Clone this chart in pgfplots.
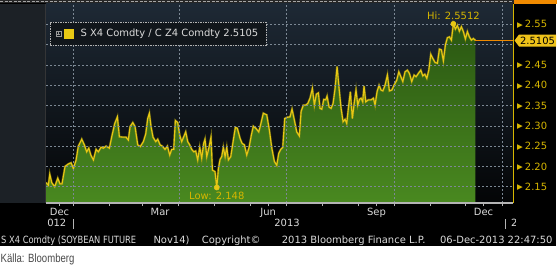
\documentclass[border=0pt]{standalone}
\usepackage{pgfplots}
\pgfplotsset{compat=1.18}
\usepackage{pgfplotstable}
\usepackage{fontspec}
\setmainfont{DejaVu Sans}
\newfontfamily\kalla{Liberation Sans}[FakeStretch=0.8]
\definecolor{plottop}{HTML}{1E2935}
\definecolor{plotbot}{HTML}{040506}
\definecolor{leftpanel}{HTML}{1C2126}
\definecolor{gridc}{HTML}{7C8894}
\definecolor{greentop}{HTML}{2A5612}
\definecolor{greenbot}{HTML}{4A8A20}
\definecolor{lineyel}{HTML}{E8C814}
\definecolor{glow}{HTML}{9C9410}
\definecolor{gold}{HTML}{D6B600}
\definecolor{txtgray}{HTML}{DADADA}
\definecolor{legbg}{HTML}{11161B}
\definecolor{orangeln}{HTML}{F08A00}
\definecolor{boxyel}{HTML}{EEC21A}
\definecolor{axgray}{HTML}{B4B4B4}
\definecolor{kallagray}{HTML}{4A4A4A}
\newcommand{\tri}{\raisebox{0.6bp}{\fontsize{7.5}{7.5}\selectfont ▶}\hspace{2bp}}

% days since 1 Jan 2013, ratio S X4 / C Z4
\pgfplotstableread{
day val
-23.0 2.160
-21.0 2.154
-19.8 2.181
-18.1 2.160
-15.6 2.150
-13.0 2.171
-11.1 2.157
-9.4 2.157
-6.8 2.200
-4.0 2.206
-1.7 2.209
0.3 2.195
2.6 2.216
4.5 2.250
7.4 2.267
9.6 2.253
11.6 2.236
13.4 2.245
15.1 2.228
17.3 2.216
19.6 2.242
21.5 2.236
23.8 2.247
25.8 2.245
28.1 2.250
30.9 2.245
32.9 2.273
35.5 2.306
37.7 2.322
39.4 2.273
42.8 2.272
45.1 2.272
47.0 2.265
48.5 2.298
50.8 2.308
52.7 2.298
55.0 2.253
57.2 2.249
59.8 2.261
61.8 2.280
63.5 2.318
64.9 2.331
66.3 2.298
68.0 2.272
70.3 2.261
72.0 2.267
74.0 2.253
75.9 2.250
78.2 2.242
80.2 2.250
82.2 2.228
83.9 2.242
85.6 2.242
87.0 2.313
89.0 2.308
90.7 2.277
92.4 2.261
94.1 2.273
95.8 2.285
97.5 2.261
99.2 2.253
100.9 2.242
102.6 2.236
104.3 2.238
106.0 2.216
107.7 2.247
109.4 2.220
111.1 2.257
112.2 2.267
113.7 2.224
115.6 2.247
117.3 2.272
118.5 2.191
120.7 2.187
122.2 2.148
123.6 2.195
125.0 2.217
126.4 2.224
127.8 2.247
129.3 2.224
130.7 2.247
132.1 2.216
134.1 2.224
136.3 2.265
138.0 2.296
139.7 2.294
142.0 2.269
143.7 2.257
145.7 2.253
147.7 2.228
149.7 2.247
151.6 2.277
153.3 2.299
155.4 2.294
157.9 2.285
159.6 2.304
161.8 2.331
164.7 2.327
166.9 2.290
169.0 2.245
171.2 2.212
173.2 2.203
174.9 2.232
176.6 2.242
178.3 2.247
180.0 2.318
182.2 2.321
184.5 2.322
186.2 2.341
187.9 2.318
190.2 2.285
192.4 2.275
193.9 2.335
195.8 2.351
197.8 2.351
199.6 2.355
201.5 2.368
203.5 2.392
205.2 2.351
206.9 2.378
208.6 2.381
210.0 2.343
211.5 2.341
213.2 2.365
214.9 2.364
216.0 2.373
217.7 2.346
219.4 2.343
221.1 2.355
222.8 2.392
224.5 2.446
226.2 2.392
227.9 2.343
229.6 2.310
231.3 2.316
232.7 2.306
234.1 2.343
235.8 2.384
237.5 2.318
239.2 2.359
240.6 2.388
242.1 2.351
243.5 2.365
244.9 2.368
246.3 2.359
247.4 2.398
248.9 2.359
251.1 2.364
253.4 2.364
255.4 2.368
256.8 2.351
258.5 2.384
260.2 2.400
261.9 2.388
263.4 2.386
265.3 2.400
267.3 2.425
269.0 2.386
271.0 2.388
273.0 2.400
275.3 2.413
277.0 2.433
278.7 2.421
280.4 2.409
282.3 2.433
284.3 2.437
286.0 2.429
288.0 2.409
290.0 2.425
291.7 2.421
293.6 2.429
295.7 2.437
297.4 2.423
299.1 2.427
300.8 2.417
302.5 2.437
304.2 2.476
305.9 2.466
307.8 2.456
309.8 2.454
311.5 2.489
313.2 2.487
314.9 2.460
316.6 2.499
318.3 2.517
320.0 2.519
321.7 2.511
323.4 2.5512
325.1 2.538
326.8 2.547
328.5 2.533
330.2 2.544
331.9 2.532
333.6 2.514
335.3 2.532
337.0 2.519
338.7 2.511
340.4 2.515
342.1 2.5105
}\soy

\begin{document}
\begin{tikzpicture}[x=1bp,y=1bp]
\useasboundingbox (0,0) rectangle (557,267);
\fill[white] (0,0) rectangle (557,267);
\fill[black] (0,21.5) rectangle (556,267);
% top strip
\fill[black!85] (0,263.5) rectangle (557,267);
\draw[gray!70, line width=1bp, dash pattern=on 3bp off 1.5bp] (0,265.5) -- (512,265.5);
\fill[orangeln] (514,263) rectangle (557,267);
% panels
\fill[leftpanel] (0,64) rectangle (45.5,263);
\draw[gray!45!black, line width=0.8bp] (45.5,64) -- (45.5,263);
\shade[top color=plottop,bottom color=plotbot] (45.9,64) rectangle (513,263);

\begin{axis}[
  at={(46bp,64bp)}, anchor=south west, scale only axis,
  width=467bp, height=199bp,
  xmin=-23, xmax=374.1, ymin=2.1099, ymax=2.600,
  axis x line*=bottom, axis y line*=right,
  x axis line style={draw=axgray, line width=1.1bp, -},
  y axis line style={draw=gold, line width=1bp, -},
  axis on top,
  tick align=outside,
  major tick length=3bp,
  xtick={0,31,59,90,120,151,181,212,243,273,304,334,365},
  xticklabels={},
  x tick style={draw=axgray, line width=0.8bp},
  extra x ticks={-11.5,74,166,258,349},
  extra x tick labels={Dec,Mar,Jun,Sep,Dec},
  extra x tick style={grid=none, tick style={draw=none}},
  xticklabel style={anchor=base, yshift=-9bp, text=txtgray, font=\fontsize{10}{12}\selectfont, inner sep=0pt},
  minor xtick={0,90,181,273,365},
  minor tick length=0pt,
  xminorgrids=true, xmajorgrids=false,
  ytick={2.15,2.20,2.25,2.30,2.35,2.40,2.45,2.50,2.55},
  yticklabels={\tri2.15,\tri2.20,\tri2.25,\tri2.30,\tri2.35,\tri2.40,\tri2.45,,\tri2.55},
  ymajorgrids=true,
  y tick style={draw=none},
  grid style={draw=gridc, line width=0.6bp, dash pattern=on 2bp off 2bp},
  minor grid style={draw=gridc, line width=0.6bp, dash pattern=on 2bp off 2bp},
  yticklabel style={anchor=base west, xshift=1bp, yshift=-3.6bp, inner sep=0pt, text=gold, font=\fontsize{10}{12}\selectfont},
  legend style={at={(0,1)}, anchor=north west, xshift=4bp, yshift=-18bp,
    fill=legbg, draw=gray!60, dash pattern=on 1.5bp off 1bp, line width=0.5bp,
    text=txtgray, font=\fontsize{10}{12}\selectfont,
    inner xsep=5.5bp, inner ysep=5bp,
    /tikz/every odd column/.append style={column sep=4.5bp}},
  legend image code/.code={
    \draw[gray!80, line width=0.5bp, dash pattern=] (0bp,-2.5bp) rectangle (5bp,2.5bp);
    \draw[gray!80, line width=0.5bp, dash pattern=] (1bp,0bp) -- (4bp,0bp) (2.5bp,-1.5bp) -- (2.5bp,1.5bp);
    \fill[lineyel] (8.5bp,-4.5bp) rectangle (17.5bp,4.5bp);
  },
]
\addplot[draw=none, top color=greentop, bottom color=greenbot, forget plot]
  table[x=day,y=val]{\soy} -- (axis cs:342.1,2.10) -- (axis cs:-23,2.10) -- cycle;
\addplot[glow, line width=2.2bp, opacity=0.55, forget plot] table[x=day,y=val]{\soy};
\addplot[lineyel, line width=1.1bp] table[x=day,y=val]{\soy};
\addlegendentry{S X4 Comdty / C Z4 Comdty 2.5105}
\addplot[orangeln, line width=0.9bp, forget plot] coordinates {(342.1,2.5105) (374.1,2.5105)};
\addplot[only marks, mark=*, mark size=2.6bp, mark options={fill=lineyel, draw=lineyel}, forget plot]
  coordinates {(122.2,2.148) (323.4,2.5512)};
\node[anchor=base, text=gold, inner sep=0pt, font=\fontsize{10}{12}\selectfont, yshift=-11.5bp] at (axis cs:122.2,2.148) {Low: 2.148};
\node[anchor=base, text=gold, inner sep=0pt, font=\fontsize{10}{12}\selectfont, yshift=4bp] at (axis cs:323.4,2.5512) {Hi: 2.5512};
\end{axis}

% last value box
\fill[boxyel] (514.5,226.5) -- (519,232.5) -- (556,232.5) -- (556,220.5) -- (519,220.5) -- cycle;
\node[anchor=base, inner sep=0pt, text=black, font=\fontsize{10}{12}\selectfont] at (537.5,222.9) {2.5105};

% year row
\begin{scope}
\clip (47,36) rectangle (515.5,53);
\node[anchor=base east, inner sep=0pt, text=txtgray, font=\fontsize{10}{12}\selectfont] at (66.5,40.3) {2012};
\node[anchor=base, inner sep=0pt, text=txtgray, font=\fontsize{10}{12}\selectfont] at (287,40.3) {2013};
\node[anchor=base west, inner sep=0pt, text=txtgray, font=\fontsize{10}{12}\selectfont] at (511,40.3) {2014};
\end{scope}
\draw[axgray, line width=0.8bp] (73,38.5) -- (73,48.5);
\draw[axgray, line width=0.8bp] (505,38.5) -- (505,48.5);

% bottom info row
\begin{scope}[every node/.style={inner sep=0pt, text=txtgray, font=\fontsize{10}{12}\selectfont}]
\node[anchor=base west] at (1,24) {\scalebox{0.835}[1]{S X4 Comdty (SOYBEAN FUTURE}};
\node[anchor=base west] at (153.3,24) {Nov14)};
\node[anchor=base west] at (201.7,24) {Copyright©};
\node[anchor=base west] at (281.7,24) {2013 Bloomberg Finance L.P.};
\node[anchor=base east] at (552.7,24) {06-Dec-2013 22:47:50};
\end{scope}

\node[anchor=base west, inner sep=0pt, text=kallagray, font=\kalla\fontsize{12}{14}\selectfont] at (0.5,4.3) {Källa: Bloomberg};
\end{tikzpicture}
\end{document}
